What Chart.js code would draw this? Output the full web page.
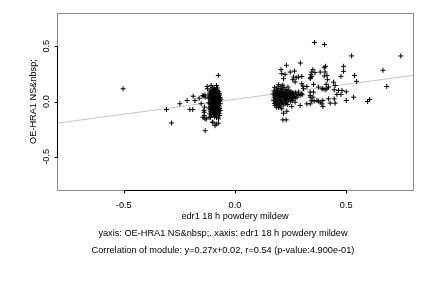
<!DOCTYPE html>
<html>
<head>
<meta charset="utf-8">
<script src="https://cdn.jsdelivr.net/npm/chart.js@4"></script>
<style>
  html, body { margin: 0; padding: 0; background: #fff; }
  #wrap { width: 432px; height: 288px; }
</style>
</head>
<body>
<div id="wrap"><canvas id="plot" width="432" height="288"></canvas></div>
<script>
// axis setup
var xTicks = [-0.5, 0, 0.5];
var xTickLabels = ['-0.5', '0.0', '0.5'];
var yTicks = [0.5, 0, -0.5];
var yTickLabels = ['0.5', '0.0', '-0.5'];
var xTitle = 'edr1 18 h powdery mildew';
var yTitle = 'OE-HRA1 NS&nbsp;';
var captionLines = [
  'yaxis: OE-HRA1 NS&nbsp;. xaxis: edr1 18 h powdery mildew',
  'Correlation of module: y=0.27x+0.02, r=0.54 (p-value:4.900e-01)'
];

// fit from caption
var slope = 0.27;
var intercept = 0.02;

// scattered points left of the first cluster
var leftSparse = [
  [-0.503, 0.115], [-0.308, -0.073], [-0.285, -0.194], [-0.248, -0.02], [-0.215, 0.009],
  [-0.203, -0.073], [-0.19, -0.073], [-0.188, 0.048], [-0.18, 0.009], [-0.161, 0.03],
  [-0.143, 0.048], [-0.135, 0.06], [-0.124, 0.115], [-0.134, -0.264], [-0.102, -0.188],
  [-0.09, -0.218], [-0.075, -0.197], [-0.138, -0.097], [-0.138, -0.127], [-0.135, -0.157],
  [-0.116, -0.143], [-0.075, 0.236], [-0.083, 0.145], [-0.078, 0.1], [-0.107, 0.145],
  [-0.125, 0.136], [-0.144, 0.055], [-0.134, 0.04], [-0.152, -0.02], [-0.137, -0.05],
  [-0.14, -0.08], [-0.144, -0.143], [-0.129, -0.157], [-0.114, -0.112], [-0.11, -0.143],
  [-0.069, -0.127], [-0.074, -0.157], [-0.099, -0.188], [-0.084, -0.203]
];

// dense column near x = -0.09
var leftCluster = [
  [-0.112, 0.092], [-0.104, 0.084], [-0.096, 0.101], [-0.088, 0.077], [-0.081, 0.093],
  [-0.073, 0.088], [-0.109, 0.066], [-0.1, 0.059], [-0.092, 0.071], [-0.085, 0.062],
  [-0.077, 0.069], [-0.069, 0.057], [-0.114, 0.041], [-0.106, 0.048], [-0.098, 0.036],
  [-0.09, 0.044], [-0.083, 0.03], [-0.075, 0.047], [-0.067, 0.035], [-0.111, 0.022],
  [-0.103, 0.015], [-0.095, 0.027], [-0.087, 0.012], [-0.079, 0.02], [-0.071, 0.008],
  [-0.108, -0.004], [-0.1, 0.003], [-0.092, -0.01], [-0.084, 0.0], [-0.076, -0.006],
  [-0.068, 0.004], [-0.113, -0.021], [-0.105, -0.028], [-0.097, -0.017], [-0.089, -0.031],
  [-0.081, -0.022], [-0.073, -0.035], [-0.11, -0.047], [-0.102, -0.041], [-0.094, -0.054],
  [-0.086, -0.045], [-0.078, -0.058], [-0.07, -0.049], [-0.107, -0.069], [-0.099, -0.076],
  [-0.091, -0.064], [-0.083, -0.081], [-0.075, -0.07], [-0.109, -0.093], [-0.101, -0.1],
  [-0.093, -0.088], [-0.085, -0.106], [-0.077, -0.095], [-0.098, -0.121], [-0.088, -0.128],
  [-0.08, -0.115], [-0.115, 0.075], [-0.094, 0.118], [-0.086, 0.11], [-0.079, 0.122],
  [-0.118, -0.012], [-0.117, -0.058], [-0.12, 0.03], [-0.066, -0.02], [-0.064, 0.02],
  [-0.066, -0.08], [-0.099, 0.075], [-0.091, 0.052], [-0.082, 0.078], [-0.104, 0.031],
  [-0.096, 0.006], [-0.087, 0.025], [-0.079, 0.04], [-0.072, 0.025], [-0.106, -0.013],
  [-0.098, -0.037], [-0.09, -0.004], [-0.082, -0.039], [-0.074, -0.019], [-0.104, -0.059],
  [-0.096, -0.067], [-0.088, -0.049], [-0.08, -0.071], [-0.072, -0.085], [-0.103, -0.083],
  [-0.095, -0.11], [-0.087, -0.092], [-0.079, -0.1], [-0.112, -0.075], [-0.116, 0.057],
  [-0.07, 0.072], [-0.108, 0.105], [-0.101, 0.125], [-0.092, 0.09], [-0.084, 0.046],
  [-0.076, 0.058], [-0.11, 0.012], [-0.093, 0.016], [-0.085, -0.015], [-0.077, 0.011],
  [-0.101, -0.052], [-0.086, -0.061], [-0.069, -0.063], [-0.092, -0.138], [-0.083, -0.143],
  [-0.106, -0.117], [-0.071, -0.107], [-0.074, -0.125]
];

// dense blob near x = 0.2
var rightCluster = [
  [0.178, 0.128], [0.186, 0.112], [0.194, 0.134], [0.203, 0.119], [0.211, 0.14],
  [0.22, 0.124], [0.229, 0.108], [0.238, 0.131], [0.175, 0.096], [0.183, 0.083],
  [0.191, 0.101], [0.199, 0.088], [0.207, 0.097], [0.215, 0.079], [0.224, 0.092],
  [0.233, 0.085], [0.242, 0.1], [0.251, 0.09], [0.26, 0.082], [0.172, 0.068],
  [0.18, 0.055], [0.188, 0.072], [0.196, 0.059], [0.204, 0.066], [0.212, 0.05],
  [0.221, 0.063], [0.23, 0.056], [0.239, 0.07], [0.248, 0.061], [0.257, 0.053],
  [0.266, 0.067], [0.275, 0.058], [0.284, 0.064], [0.293, 0.056], [0.302, 0.061],
  [0.176, 0.039], [0.184, 0.026], [0.192, 0.043], [0.2, 0.031], [0.208, 0.038],
  [0.216, 0.022], [0.225, 0.034], [0.234, 0.027], [0.243, 0.041], [0.252, 0.03],
  [0.261, 0.036], [0.27, 0.028], [0.279, 0.039], [0.173, 0.012], [0.181, 0.0],
  [0.189, 0.015], [0.197, 0.004], [0.205, 0.01], [0.213, -0.006], [0.222, 0.007],
  [0.231, -0.002], [0.24, 0.012], [0.249, 0.001], [0.258, 0.008], [0.177, -0.018],
  [0.185, -0.029], [0.193, -0.012], [0.201, -0.024], [0.21, -0.016], [0.219, -0.031],
  [0.228, -0.02], [0.237, -0.027], [0.188, 0.1], [0.197, 0.078], [0.205, 0.046],
  [0.214, 0.109], [0.22, 0.042], [0.228, 0.075], [0.236, 0.048], [0.245, 0.083],
  [0.254, 0.07], [0.263, 0.045], [0.272, 0.08], [0.182, 0.049], [0.19, 0.061],
  [0.179, 0.077], [0.2, 0.052], [0.209, 0.083], [0.217, 0.06], [0.226, 0.017],
  [0.235, 0.063], [0.244, 0.021], [0.253, 0.015], [0.195, -0.04], [0.204, -0.048],
  [0.186, -0.052], [0.215, 0.148], [0.196, 0.152]
];

// spread of points right of the blob
var rightSparse = [
  [0.21, 0.252], [0.225, 0.245], [0.248, 0.266], [0.263, 0.221], [0.26, 0.197],
  [0.218, 0.206], [0.3, 0.227], [0.345, 0.266], [0.345, 0.227], [0.383, 0.266],
  [0.323, 0.136], [0.308, 0.115], [0.353, 0.155], [0.375, 0.13], [0.391, 0.115],
  [0.285, 0.085], [0.3, 0.07], [0.338, 0.055], [0.323, -0.021], [0.338, -0.021],
  [0.368, 0.009], [0.383, -0.006], [0.391, -0.021], [0.293, -0.036], [0.18, -0.036],
  [0.195, -0.052], [0.21, -0.066], [0.233, -0.088], [0.218, -0.106], [0.215, -0.166],
  [0.23, -0.166], [0.27, -0.006], [0.255, -0.045], [0.294, 0.348], [0.231, 0.327],
  [0.207, 0.288], [0.267, 0.275], [0.275, 0.215], [0.285, 0.221], [0.27, 0.176],
  [0.3, 0.161], [0.305, 0.14], [0.339, 0.215], [0.357, 0.534], [0.402, 0.515],
  [0.524, 0.412], [0.745, 0.412], [0.665, 0.282], [0.682, 0.136], [0.488, 0.318],
  [0.488, 0.273], [0.476, 0.227], [0.537, 0.236], [0.546, 0.182], [0.407, 0.318],
  [0.401, 0.306], [0.405, 0.267], [0.401, 0.23], [0.413, 0.236], [0.416, 0.197],
  [0.35, 0.288], [0.359, 0.261], [0.341, 0.243], [0.338, 0.206], [0.443, 0.175],
  [0.45, 0.145], [0.41, 0.155], [0.42, 0.13], [0.465, 0.1], [0.481, 0.1],
  [0.5, 0.088], [0.458, 0.064], [0.476, 0.064], [0.446, 0.106], [0.413, 0.115],
  [0.405, 0.106], [0.395, 0.115], [0.533, 0.039], [0.5, 0.009], [0.596, 0.0],
  [0.605, 0.018], [0.42, 0.024], [0.446, 0.024], [0.395, 0.009], [0.375, 0.003],
  [0.356, 0.003], [0.345, 0.009], [0.428, -0.015], [0.45, -0.015], [0.395, -0.045],
  [0.338, 0.085], [0.353, 0.085], [0.338, 0.039], [0.35, 0.039]
];

var fontFamily = '"Liberation Sans", Arial, Helvetica, sans-serif';

function toXY(list) {
  return list.map(function (p) { return { x: p[0], y: p[1] }; });
}

var allPoints = toXY(leftSparse.concat(leftCluster, rightCluster, rightSparse));

var xMin = -0.8, xMax = 0.8;
var fitLine = [
  { x: xMin, y: slope * xMin + intercept },
  { x: xMax, y: slope * xMax + intercept }
];

// R-style frame, axes, ticks and captions
var framePlugin = {
  id: 'frame',
  beforeDatasetsDraw: function (chart) {
    var ctx = chart.ctx;
    var a = chart.chartArea;
    ctx.save();
    ctx.lineWidth = 1;
    ctx.strokeStyle = '#8c8c8c';
    ctx.strokeRect(a.left + 0.5, a.top + 0.5, a.right - a.left, a.bottom - a.top);
    ctx.restore();
  },
  afterDatasetsDraw: function (chart) {
    var ctx = chart.ctx;
    var a = chart.chartArea;
    var xs = chart.scales.x;
    var ys = chart.scales.y;
    ctx.save();
    ctx.strokeStyle = '#000';
    ctx.lineWidth = 1;

    // x axis
    var bx0 = Math.round(xs.getPixelForValue(xTicks[0]));
    var bx1 = Math.round(xs.getPixelForValue(xTicks[xTicks.length - 1]));
    var by = Math.round(a.bottom) + 0.5;
    ctx.beginPath();
    ctx.moveTo(bx0, by);
    ctx.lineTo(bx1 + 1, by);
    xTicks.forEach(function (t) {
      var px = Math.round(xs.getPixelForValue(t)) + 0.5;
      ctx.moveTo(px, by);
      ctx.lineTo(px, by + 3);
    });
    // y axis
    var lx = Math.round(a.left) + 0.5;
    var ly0 = Math.round(ys.getPixelForValue(yTicks[0]));
    var ly1 = Math.round(ys.getPixelForValue(yTicks[yTicks.length - 1]));
    ctx.moveTo(lx, ly0);
    ctx.lineTo(lx, ly1 + 1);
    yTicks.forEach(function (t) {
      var py = Math.round(ys.getPixelForValue(t)) + 0.5;
      ctx.moveTo(lx, py);
      ctx.lineTo(lx - 3, py);
    });
    ctx.stroke();

    ctx.fillStyle = '#000';
    ctx.font = '9.2px ' + fontFamily;
    ctx.textAlign = 'center';
    ctx.textBaseline = 'middle';
    xTicks.forEach(function (t, i) {
      ctx.fillText(xTickLabels[i], xs.getPixelForValue(t), a.bottom + 15);
    });
    yTicks.forEach(function (t, i) {
      ctx.save();
      ctx.translate(a.left - 11, ys.getPixelForValue(t));
      ctx.rotate(-Math.PI / 2);
      ctx.fillText(yTickLabels[i], 0, 0);
      ctx.restore();
    });

    var midX = (a.left + a.right) / 2;
    ctx.fillText(xTitle, midX, a.bottom + 26);
    ctx.save();
    ctx.translate(a.left - 24, (a.top + a.bottom) / 2);
    ctx.rotate(-Math.PI / 2);
    ctx.fillText(yTitle, 0, 0);
    ctx.restore();

    // captions sit a little left of the plot centre
    ctx.fillText(captionLines[0], midX - 12, a.bottom + 43);
    ctx.fillText(captionLines[1], midX - 12, a.bottom + 60);
    ctx.restore();
  }
};

new Chart(document.getElementById('plot'), {
  type: 'scatter',
  data: {
    datasets: [
      {
        type: 'line',
        label: 'fit',
        data: fitLine,
        borderColor: '#c4c4c4',
        borderWidth: 1,
        pointRadius: 0,
        fill: false,
        order: 2
      },
      {
        label: 'genes',
        data: allPoints,
        pointStyle: 'cross',
        pointRadius: 2.5,
        borderColor: '#000',
        backgroundColor: '#000',
        borderWidth: 1,
        order: 1
      }
    ]
  },
  options: {
    responsive: false,
    animation: false,
    devicePixelRatio: 1,
    layout: { padding: { left: 57, top: 13, right: 19, bottom: 98 } },
    scales: {
      x: { type: 'linear', min: xMin, max: xMax, display: false },
      y: { type: 'linear', min: -0.8, max: 0.8, display: false }
    },
    plugins: {
      legend: { display: false },
      tooltip: { enabled: false }
    }
  },
  plugins: [framePlugin]
});
</script>
</body>
</html>
